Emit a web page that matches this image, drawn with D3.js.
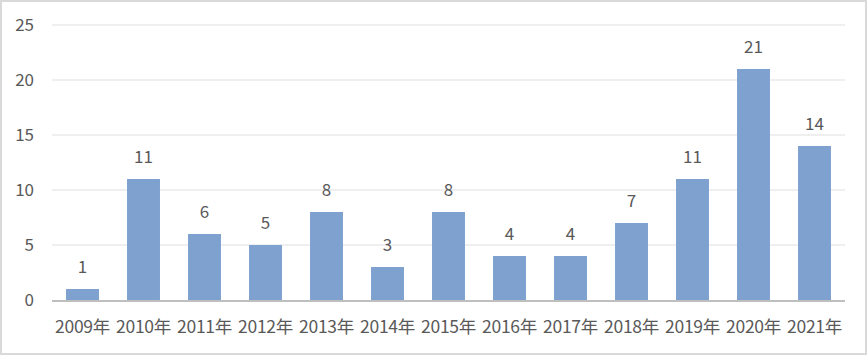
<!DOCTYPE html>
<html>
<head>
<meta charset="utf-8">
<script src="https://cdn.jsdelivr.net/npm/d3@7"></script>
<style>
body { margin: 0; background: #fff; }
text { font-family: "Noto Sans CJK SC", "Noto Sans", sans-serif; fill: #595959; }
</style>
</head>
<body>
<div id="chart"></div>
<script>
var years = ["2009年","2010年","2011年","2012年","2013年","2014年","2015年","2016年","2017年","2018年","2019年","2020年","2021年"];
var counts = [1, 11, 6, 5, 8, 3, 8, 4, 4, 7, 11, 21, 14];
var yTicks = [0, 5, 10, 15, 20, 25];

var width = 868, height = 356;
var plotLeft = 52, plotRight = 845, plotTop = 25, plotBottom = 300;

var svg = d3.select("#chart").append("svg")
	.attr("width", width)
	.attr("height", height);

// outer frame
svg.append("rect")
	.attr("x", 1).attr("y", 1)
	.attr("width", width - 3).attr("height", height - 3)
	.attr("fill", "#fff")
	.attr("stroke", "#d9d9d9")
	.attr("stroke-width", 2);

var x = d3.scaleBand()
	.domain(years)
	.range([plotLeft, plotRight])
	.paddingInner(0.46)
	.paddingOuter(0.23);

var y = d3.scaleLinear()
	.domain([0, 25])
	.range([plotBottom, plotTop]);

// gridlines
svg.append("g")
	.selectAll("line")
	.data(yTicks.filter(function(d){ return d > 0; }))
	.enter().append("line")
		.attr("x1", plotLeft).attr("x2", plotRight)
		.attr("y1", function(d){ return y(d); })
		.attr("y2", function(d){ return y(d); })
		.attr("stroke", "#eaeaea")
		.attr("stroke-width", 1.5);

// y labels
svg.append("g")
	.selectAll("text")
	.data(yTicks)
	.enter().append("text")
		.attr("x", 34)
		.attr("y", function(d){ return y(d); })
		.attr("dy", "0.36em")
		.attr("text-anchor", "end")
		.style("font-size", "17px")
		.text(function(d){ return d; });

// bars
svg.append("g")
	.selectAll("rect")
	.data(counts)
	.enter().append("rect")
		.attr("x", function(d, i){ return x(years[i]); })
		.attr("y", function(d){ return y(d); })
		.attr("width", x.bandwidth())
		.attr("height", function(d){ return y(0) - y(d); })
		.attr("fill", "#7ea1cf");

// value labels
svg.append("g")
	.selectAll("text")
	.data(counts)
	.enter().append("text")
		.attr("x", function(d, i){ return x(years[i]) + x.bandwidth() / 2; })
		.attr("y", function(d){ return y(d) - 16; })
		.attr("text-anchor", "middle")
		.style("font-size", "17px")
		.text(function(d){ return d; });

// baseline
svg.append("line")
	.attr("x1", plotLeft).attr("x2", plotRight)
	.attr("y1", y(0) + 1).attr("y2", y(0) + 1)
	.attr("stroke", "#bfbfbf")
	.attr("stroke-width", 2);

// category labels
svg.append("g")
	.selectAll("text")
	.data(years)
	.enter().append("text")
		.attr("x", function(d){ return x(d) + x.bandwidth() / 2; })
		.attr("y", 333)
		.attr("text-anchor", "middle")
		.style("font-size", "17.5px")
		.style("letter-spacing", "-0.3px")
		.text(function(d){ return d; });
</script>
</body>
</html>
